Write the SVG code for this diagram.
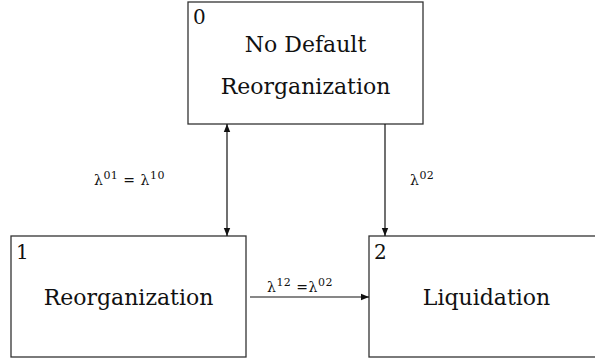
<svg xmlns="http://www.w3.org/2000/svg" width="595" height="360" viewBox="0 0 595 360">
<style>
.box{fill:#fff;stroke:#333;stroke-width:1.3}
.t{font-family:"DejaVu Serif","Liberation Serif",serif;font-size:22px;fill:#111}
.n{font-family:"DejaVu Serif","Liberation Serif",serif;font-size:20px;fill:#111}
.l{font-family:"DejaVu Serif","Liberation Serif",serif;font-size:14px;fill:#111;letter-spacing:0.5px}
.s{font-size:11px}
.c{stroke:#111;stroke-width:1.2;fill:none}
</style>
<defs>
<marker id="ah" viewBox="0 0 10 10" refX="10" refY="5" markerWidth="8" markerHeight="8" markerUnits="userSpaceOnUse" orient="auto-start-reverse"><path d="M0,1 L10,5 L0,9 z" fill="#111"/></marker>
</defs>
<g id="node0">
<rect class="box" x="188" y="2" width="235" height="122"/>
<text class="n" x="193" y="24">0</text>
<text class="t" x="305.5" y="52" text-anchor="middle">No Default</text>
<text class="t" x="305.5" y="94" text-anchor="middle">Reorganization</text>
</g>
<g id="node1">
<rect class="box" x="11" y="236" width="235" height="121"/>
<text class="n" x="16" y="259">1</text>
<text class="t" x="128.5" y="305" text-anchor="middle">Reorganization</text>
</g>
<g id="node2">
<rect class="box" x="369" y="236" width="235" height="121"/>
<text class="n" x="374" y="259">2</text>
<text class="t" x="486.5" y="305" text-anchor="middle">Liquidation</text>
</g>
<g id="connectors">
<line class="c" x1="227" y1="124" x2="227" y2="236" marker-start="url(#ah)" marker-end="url(#ah)"/>
<line class="c" x1="385" y1="124" x2="385" y2="236" marker-end="url(#ah)"/>
<line class="c" x1="250" y1="297" x2="369" y2="297" marker-end="url(#ah)"/>
<text class="l" x="94" y="185">λ<tspan class="s" dy="-6">01</tspan><tspan dy="6"> = λ</tspan><tspan class="s" dy="-6">10</tspan></text>
<text class="l" x="410" y="185">λ<tspan class="s" dy="-6">02</tspan></text>
<text class="l" x="267" y="292">λ<tspan class="s" dy="-6">12</tspan><tspan dy="6"> =λ</tspan><tspan class="s" dy="-6">02</tspan></text>
</g>
</svg>
